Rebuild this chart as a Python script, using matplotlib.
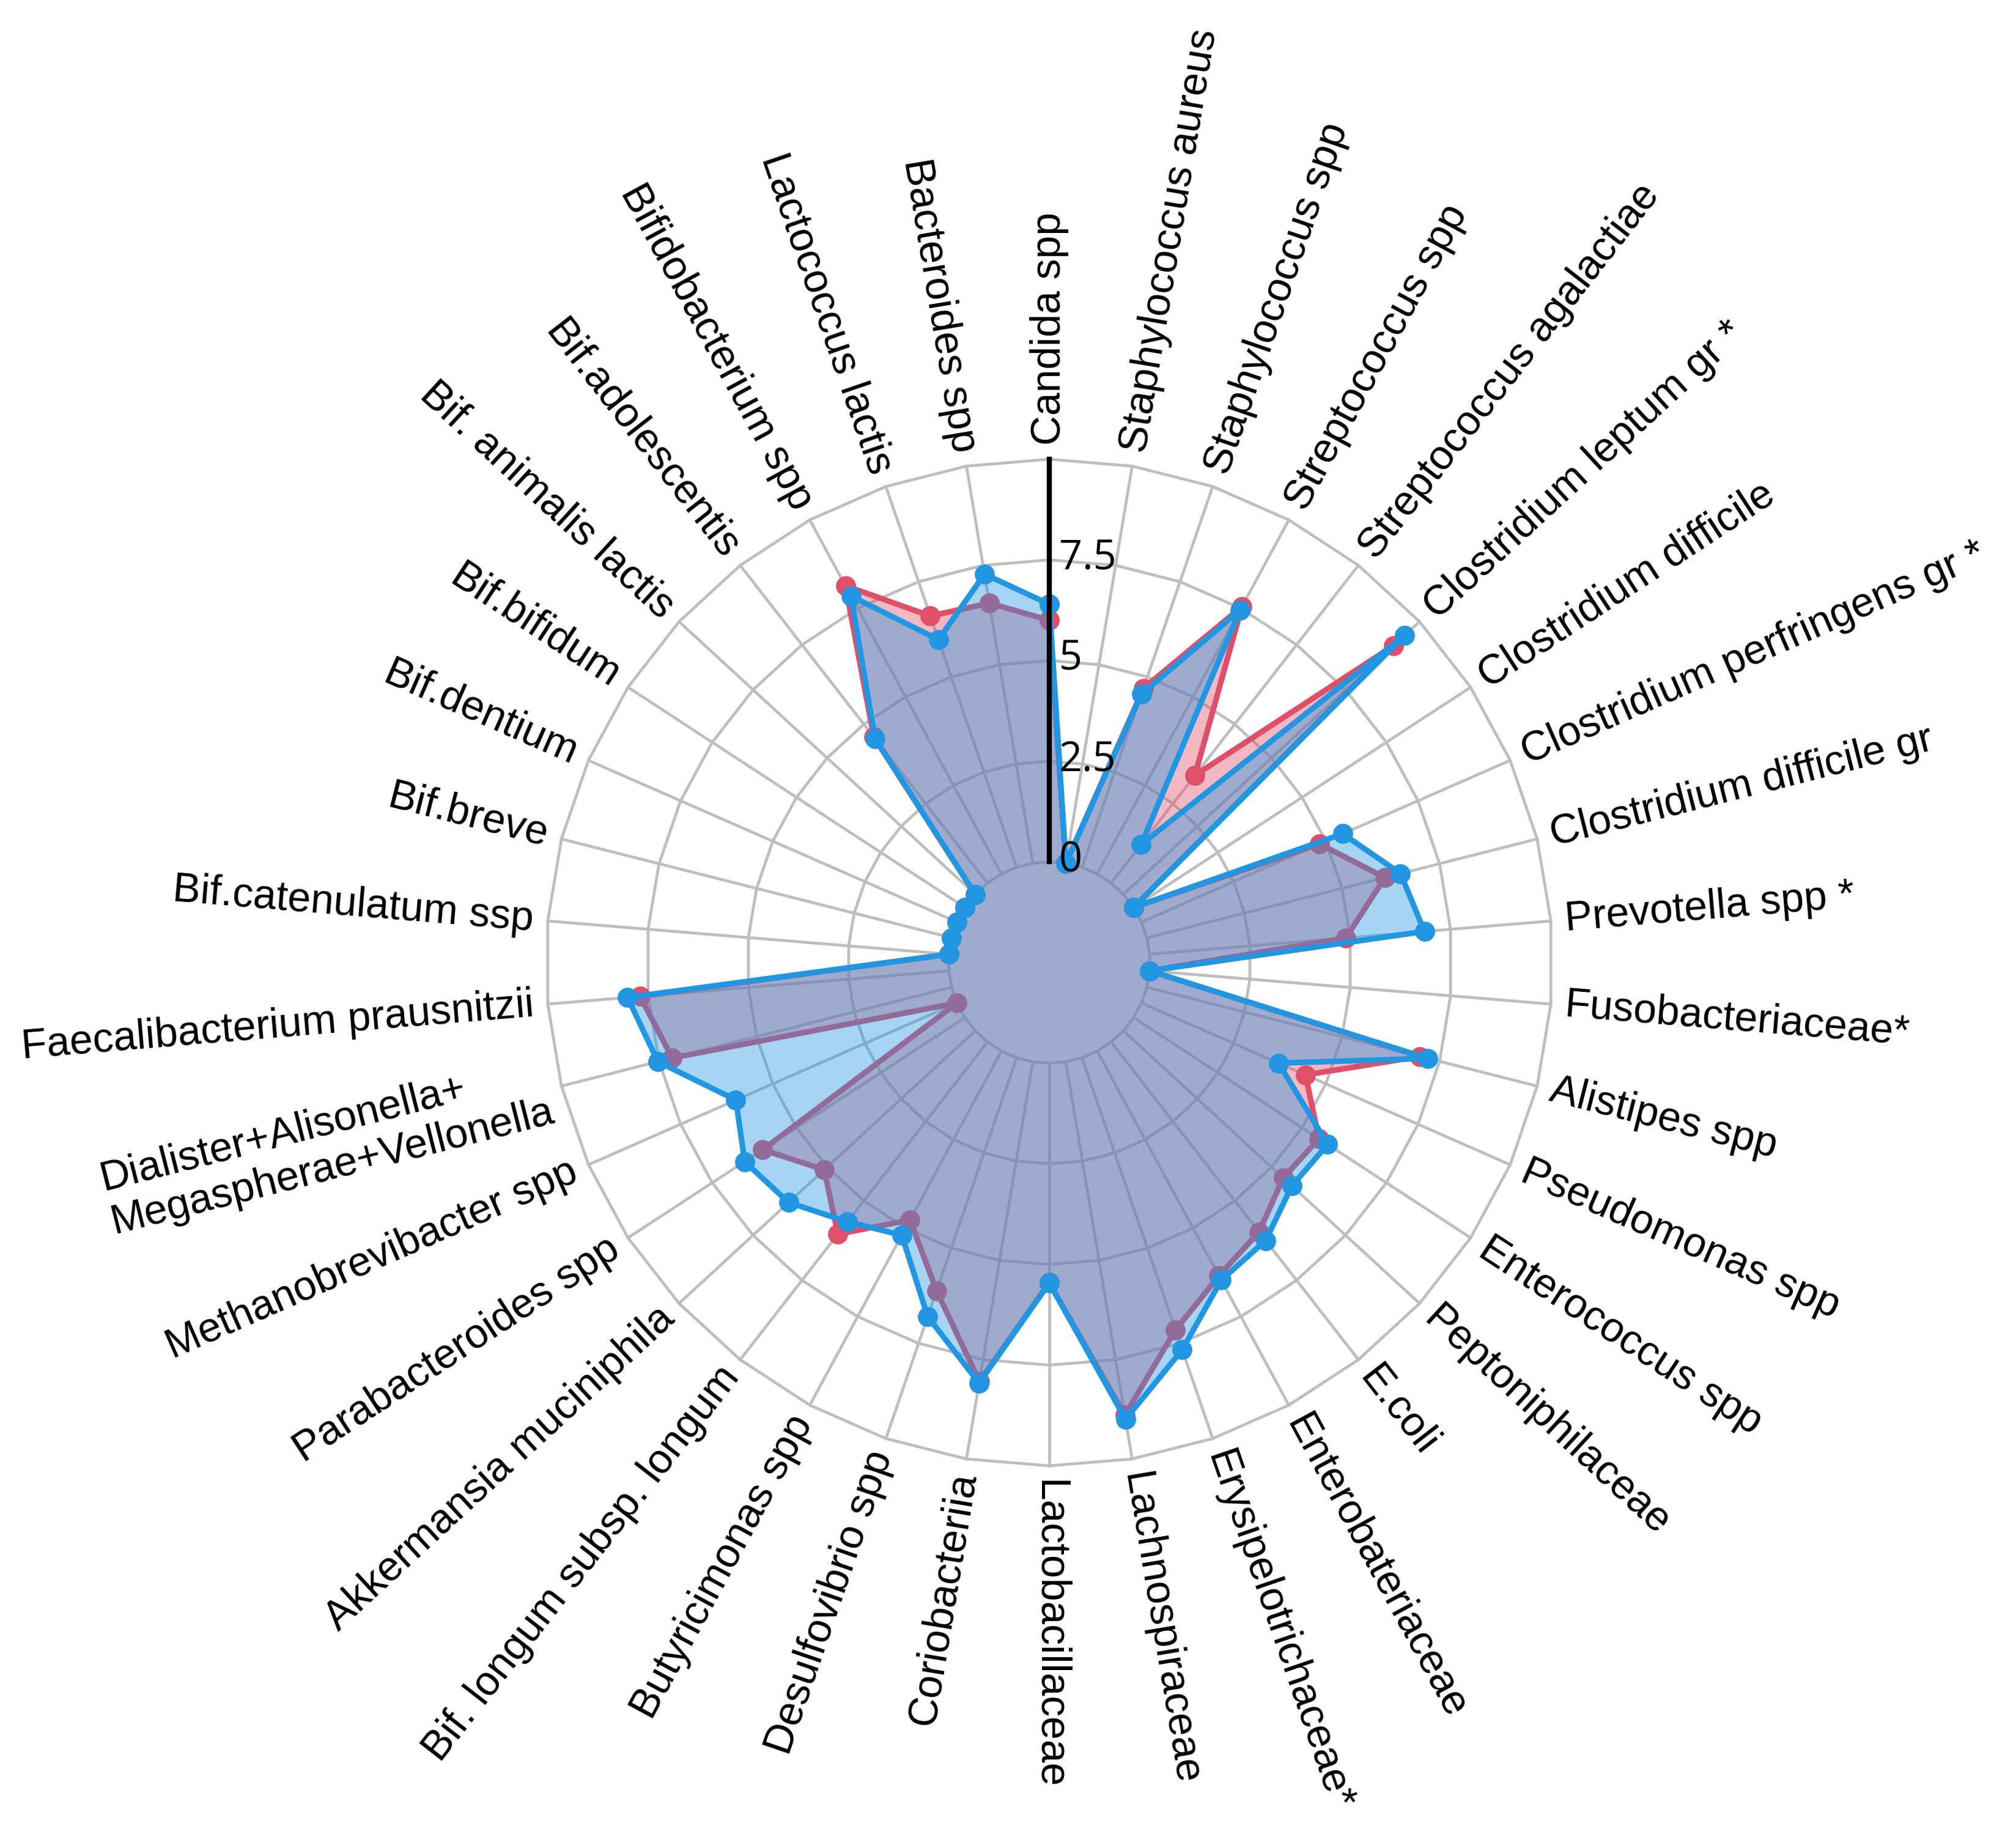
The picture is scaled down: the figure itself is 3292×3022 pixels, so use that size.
import numpy as np
import matplotlib
matplotlib.use("Agg")
import matplotlib.pyplot as plt
from matplotlib.transforms import offset_copy

categories = [
    "Candida spp", "Staphylococcus aureus", "Staphylococcus spp", "Streptococcus spp",
    "Streptococcus agalactiae", "Clostridium leptum gr *", "Clostridium difficile",
    "Clostridium perfringens gr *", "Clostridium difficile gr", "Prevotella spp *",
    "Fusobacteriaceae*", "Alistipes spp", "Pseudomonas spp", "Enterococcus spp",
    "Peptoniphilaceae", "E.coli", "Enterobateriaceae", "Erysipelotrichaceae*",
    "Lachnospiraceae", "Lactobacillaceae", "Coriobacteriia", "Desulfovibrio spp",
    "Butyricimonas spp", "Bif. longum subsp. longum", "Akkermansia muciniphila",
    "Parabacteroides spp", "Methanobrevibacter spp",
    "Dialister+Alisonella+\nMegaspherae+Vellonella",
    "Faecalibacterium prausnitzii", "Bif.catenulatum ssp", "Bif.breve", "Bif.dentium",
    "Bif.bifidum", "Bif. animalis lactis", "Bif.adolescentis", "Bifidobacterium spp",
    "Lactococcus lactis", "Bacteroides spp",
]

red_values = [6.0, 0.0, 4.7, 7.55, 3.39, 9.12, 0.0, 4.83, 6.1, 4.89,
              0.0, 7.0, 4.45, 5.5, 5.4, 5.98, 6.35, 7.15, 8.9, 5.45,
              8.05, 6.12, 4.77, 6.05, 5.1, 6.0, 0.0, 7.16, 7.7, 0.0,
              0.0, 0.0, 0.0, 0.0, 4.6, 8.14, 6.6, 6.55]

blue_values = [6.4, 0.0, 4.55, 7.45, 1.22, 9.5, 0.0, 5.46, 6.5, 6.85,
               0.0, 7.2, 3.72, 5.76, 5.69, 6.25, 6.47, 7.67, 9.0, 5.46,
               8.09, 6.8, 5.2, 5.66, 6.3, 6.54, 6.0, 7.53, 8.01, 0.0,
               0.0, 0.0, 0.0, 0.0, 4.55, 7.85, 5.98, 7.28]

radial_ticks = [0, 2.5, 5, 7.5]
radial_tick_labels = ["0", "2.5", "5", "7.5"]
radial_max = 10

RED = "#df5068"
BLUE = "#2196e3"
GRID = "#bebebe"

W, H, DPI = 3292, 3022, 200
fig = plt.figure(figsize=(W / DPI, H / DPI), dpi=DPI)
cx, cy, R = 1716, 1574, 823
ax = fig.add_axes([(cx - R) / W, (H - cy - R) / H, 2 * R / W, 2 * R / H], projection="polar")
ax.set_theta_zero_location("N")
ax.set_theta_direction(-1)
ax.set_ylim(0, radial_max)
ax.set_rorigin(-2.5)
ax.set_axis_off()

n = len(categories)
theta = np.arange(n) * 2 * np.pi / n
theta_c = np.append(theta, theta[0])

# polygon grid
for lvl in [0] + radial_ticks[1:] + [radial_max]:
    ax.plot(theta_c, np.full(n + 1, lvl), color=GRID, lw=1.7, zorder=1, clip_on=False)
for t in theta:
    ax.plot([t, t], [0, radial_max], color=GRID, lw=1.7, zorder=1, clip_on=False)

def series(vals, color, z):
    v = np.append(vals, vals[0])
    ax.fill(theta_c, v, color=color, alpha=0.4, lw=0, zorder=z, clip_on=False)
    ax.plot(theta_c, v, color=color, lw=3.3, marker="o", ms=10.8, zorder=z + 0.5,
            clip_on=False)

series(red_values, RED, 2)
series(blue_values, BLUE, 4)

# radial axis line and tick labels
ax.plot([0, 0], [0, radial_max], color="black", lw=3.0, zorder=10, clip_on=False)
tick_tr = offset_copy(ax.transData, fig=fig, x=16, y=2, units="dots")
for val, lab in zip(radial_ticks, radial_tick_labels):
    ax.text(0, val, lab, transform=tick_tr, ha="left", va="center",
            fontsize=24, family=["Open Sans", "DejaVu Sans"], zorder=11)

# category labels (radial orientation)
for t, lab in zip(theta, categories):
    deg = np.degrees(t)
    if deg <= 180 + 1e-6:
        rot = 90 - deg
        ha = "left"
    else:
        rot = 270 - deg
        ha = "right"
    ax.text(t, 10.35, lab, rotation=rot, rotation_mode="anchor", ha=ha, va="center",
            multialignment="left", fontsize=24.4,
            family=["Liberation Sans", "DejaVu Sans"], clip_on=False)

fig.savefig("out.png", dpi=DPI)
